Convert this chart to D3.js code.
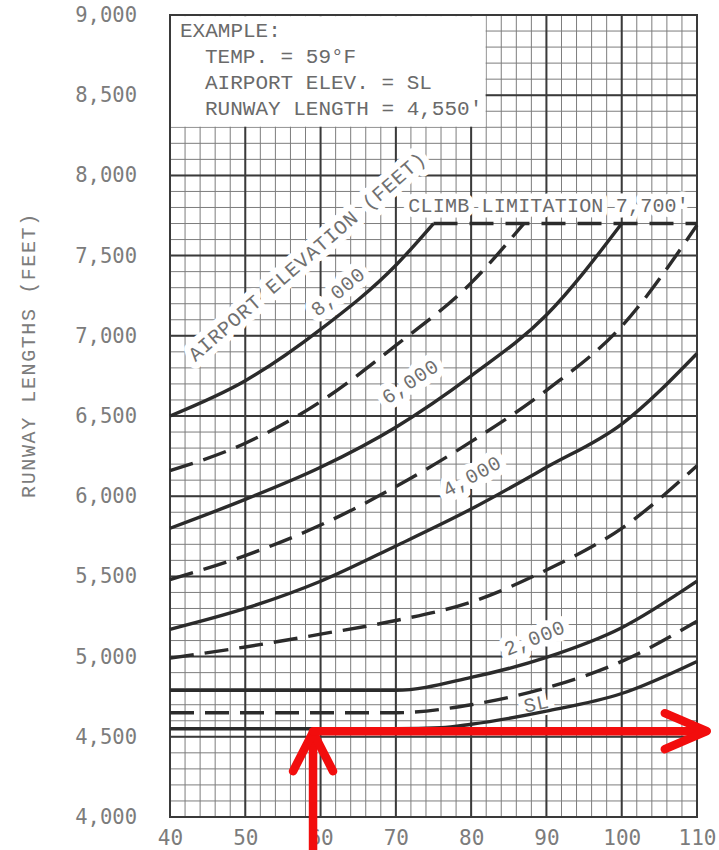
<!DOCTYPE html>
<html>
<head>
<meta charset="utf-8">
<script src="https://cdn.jsdelivr.net/npm/d3@7"></script>
<style>
  html, body { margin: 0; padding: 0; background: #fff; }
  svg { display: block; }
</style>
</head>
<body>
<div id="chart"></div>
<script>
// ---------- DATA ----------
const xTickValues = [40, 50, 60, 70, 80, 90, 100, 110];
const yTickValues = [4000, 4500, 5000, 5500, 6000, 6500, 7000, 7500, 8000, 8500, 9000];

// Airport elevation curves (temperature °F -> runway length ft)
const tSL   = [40, 50, 60, 70, 76, 80, 90, 100, 110];
const vSL   = [4550, 4550, 4550, 4550, 4556, 4578, 4660, 4770, 4970];
const t1000 = [40, 50, 60, 70, 80, 90, 100, 110];
const v1000 = [4650, 4650, 4650, 4650, 4700, 4805, 4970, 5220];
const t2000 = [40, 50, 60, 70, 80, 90, 100, 110];
const v2000 = [4790, 4790, 4790, 4790, 4870, 4995, 5180, 5470];
const t3000 = [40, 50, 60, 70, 80, 90, 100, 110];
const v3000 = [4990, 5060, 5140, 5225, 5340, 5540, 5800, 6190];
const t4000 = [40, 50, 60, 70, 80, 90, 100, 110];
const v4000 = [5170, 5300, 5470, 5690, 5920, 6180, 6450, 6890];
const t5000 = [40, 50, 60, 70, 80, 90, 100, 110];
const v5000 = [5480, 5630, 5820, 6060, 6340, 6660, 7060, 7690];
const t6000 = [40, 50, 60, 70, 80, 90, 100];
const v6000 = [5800, 5980, 6180, 6430, 6750, 7130, 7700];
const t7000 = [40, 50, 60, 70, 80, 87];
const v7000 = [6160, 6330, 6590, 6940, 7330, 7700];
const t8000 = [40, 50, 60, 70, 75];
const v8000 = [6500, 6720, 7040, 7440, 7700];
const tClimb = [75, 110];
const vClimb = [7700, 7700];

// Example (red arrows)
const exampleTemp = 59;
const exampleLength = 4535;
const arrowStartLength = 3780;
const arrowEndTemp = 111.3;

const exampleLines = ["EXAMPLE:", "TEMP. = 59\u00B0F", "AIRPORT ELEV. = SL", "RUNWAY LENGTH = 4,550'"];
const curveLabels = [
  { text: "AIRPORT ELEVATION (FEET)", t: 58.3, v: 7490, angle: -41 },
  { text: "8,000", t: 62.4, v: 7270, angle: -40 },
  { text: "6,000", t: 72.0, v: 6710, angle: -34 },
  { text: "4,000", t: 80.2, v: 6120, angle: -29 },
  { text: "2,000", t: 88.5, v: 5110, angle: -22 },
  { text: "SL", t: 88.7, v: 4700, angle: -12 }
];
const climbLabel = { text: "CLIMB LIMITATION 7,700'", t: 90.3, v: 7805 };
const yTitle = "RUNWAY LENGTHS (FEET)";

// ---------- CHART ----------
const W = 719, H = 850;
const svg = d3.select("#chart").append("svg").attr("width", W).attr("height", H);

const x = d3.scaleLinear().domain([40, 110]).range([170, 697]);
const y = d3.scaleLinear().domain([4000, 9000]).range([817, 15]);

const grid = svg.append("g");
// minor grid
grid.selectAll(".vmin").data(d3.range(40, 110.01, 2)).join("line")
  .attr("x1", d => x(d)).attr("x2", d => x(d)).attr("y1", y(9000)).attr("y2", y(4000))
  .attr("stroke", "#7d7d7d").attr("stroke-width", 1);
grid.selectAll(".hmin").data(d3.range(4000, 9000.01, 100)).join("line")
  .attr("x1", x(40)).attr("x2", x(110)).attr("y1", d => y(d)).attr("y2", d => y(d))
  .attr("stroke", "#7d7d7d").attr("stroke-width", 1);
// major grid
grid.selectAll(".vmaj").data(d3.range(40, 110.01, 10)).join("line")
  .attr("x1", d => x(d)).attr("x2", d => x(d)).attr("y1", y(9000)).attr("y2", y(4000))
  .attr("stroke", "#3a3a3a").attr("stroke-width", 2);
grid.selectAll(".hmaj").data(d3.range(4000, 9000.01, 500)).join("line")
  .attr("x1", x(40)).attr("x2", x(110)).attr("y1", d => y(d)).attr("y2", d => y(d))
  .attr("stroke", "#3a3a3a").attr("stroke-width", 2);

// Example box (blank area, top-left)
svg.append("rect")
  .attr("x", x(40) + 1).attr("y", y(9000) + 1.2)
  .attr("width", x(82) - x(40) - 1.6).attr("height", y(8300) - y(9000) - 1.8)
  .attr("fill", "#fff");
svg.append("g").selectAll("text").data(exampleLines).join("text")
  .attr("x", (d, i) => i === 0 ? x(40) + 10 : x(40) + 35)
  .attr("y", (d, i) => 37 + i * 26)
  .attr("font-family", "Liberation Mono, monospace")
  .attr("font-size", 21)
  .attr("fill", "#6a6a6a")
  .text(d => d);

// frame
svg.append("rect").attr("x", x(40)).attr("y", y(9000))
  .attr("width", x(110) - x(40)).attr("height", y(4000) - y(9000))
  .attr("fill", "none").attr("stroke", "#3a3a3a").attr("stroke-width", 2);

// curve label halos (white backgrounds), drawn before curves
const labelG = svg.append("g");
function placeLabel(sel) {
  sel.attr("transform", d => `translate(${x(d.t)},${y(d.v)}) rotate(${d.angle})`)
    .attr("text-anchor", "middle").attr("dominant-baseline", "central")
    .attr("font-family", "Liberation Mono, monospace")
    .attr("font-size", 20).attr("letter-spacing", 0.8)
    .text(d => d.text);
}
labelG.selectAll("text.halo").data(curveLabels).join("text").attr("class", "halo")
  .call(placeLabel).attr("fill", "#fff").attr("stroke", "#fff").attr("stroke-width", 13)
  .attr("stroke-linejoin", "round");
labelG.append("text")
  .attr("x", x(climbLabel.t)).attr("y", y(climbLabel.v))
  .attr("text-anchor", "middle").attr("dominant-baseline", "central")
  .attr("font-family", "Liberation Mono, monospace").attr("font-size", 20).attr("letter-spacing", 0.2)
  .attr("fill", "#fff").attr("stroke", "#fff").attr("stroke-width", 11).attr("stroke-linejoin", "round")
  .text(climbLabel.text);

// curves
const line = d3.line().x(d => x(d[0])).y(d => y(d[1])).curve(d3.curveMonotoneX);
const zip = (t, v) => t.map((d, i) => [d, v[i]]);
const series = [
  { pts: zip(tSL, vSL), dash: null },
  { pts: zip(t1000, v1000), dash: "24,11" },
  { pts: zip(t2000, v2000), dash: null },
  { pts: zip(t3000, v3000), dash: "24,11" },
  { pts: zip(t4000, v4000), dash: null },
  { pts: zip(t5000, v5000), dash: "24,11" },
  { pts: zip(t6000, v6000), dash: null },
  { pts: zip(t7000, v7000), dash: "24,11" },
  { pts: zip(t8000, v8000), dash: null },
  { pts: zip(tClimb, vClimb), dash: "24,12" }
];
svg.append("g").selectAll("path").data(series).join("path")
  .attr("d", d => line(d.pts))
  .attr("fill", "none").attr("stroke", "#2b2b2b").attr("stroke-width", 3.4)
  .attr("stroke-dasharray", d => d.dash);

// label texts
labelG.selectAll("text.lbl").data(curveLabels).join("text").attr("class", "lbl")
  .call(placeLabel).attr("fill", "#707070");
labelG.append("text")
  .attr("x", x(climbLabel.t)).attr("y", y(climbLabel.v))
  .attr("text-anchor", "middle").attr("dominant-baseline", "central")
  .attr("font-family", "Liberation Mono, monospace").attr("font-size", 20).attr("letter-spacing", 0.2)
  .attr("fill", "#6a6a6a")
  .text(climbLabel.text);

// axes
const yAxis = svg.append("g").attr("transform", `translate(${x(40)},0)`)
  .call(d3.axisLeft(y).tickValues(yTickValues).tickSize(0).tickPadding(33).tickFormat(d3.format(",")));
yAxis.select(".domain").remove();
yAxis.selectAll("text").attr("font-family", "DejaVu Sans Mono, monospace").attr("font-size", 20.5)
  .attr("fill", "#7c7c7c");

const xAxis = svg.append("g").attr("transform", `translate(0,${y(4000)})`)
  .call(d3.axisBottom(x).tickValues(xTickValues).tickSize(0).tickPadding(13));
xAxis.select(".domain").remove();
xAxis.selectAll("text").attr("font-family", "DejaVu Sans Mono, monospace").attr("font-size", 21)
  .attr("fill", "#7c7c7c");

svg.append("text")
  .attr("transform", `translate(29,${y(6880)}) rotate(-90)`)
  .attr("text-anchor", "middle").attr("dominant-baseline", "central")
  .attr("font-family", "Liberation Mono, monospace").attr("font-size", 20).attr("letter-spacing", 1.6)
  .attr("fill", "#7c7c7c")
  .text(yTitle);

// red example arrows
const red = svg.append("g").attr("fill", "none").attr("stroke", "#f20d0d")
  .attr("stroke-width", 8.5).attr("stroke-linecap", "round").attr("stroke-linejoin", "round");
red.append("line")
  .attr("x1", x(exampleTemp)).attr("x2", x(exampleTemp))
  .attr("y1", y(arrowStartLength)).attr("y2", y(exampleLength) + 2)
  .attr("stroke-linecap", "butt");
red.append("polyline")
  .attr("points", [[x(exampleTemp) - 20, y(exampleLength) + 40], [x(exampleTemp), y(exampleLength) + 1], [x(exampleTemp) + 20, y(exampleLength) + 40]].join(" "));
red.append("line")
  .attr("x1", x(exampleTemp)).attr("x2", x(arrowEndTemp) - 2)
  .attr("y1", y(exampleLength)).attr("y2", y(exampleLength));
red.append("polyline")
  .attr("points", [[x(arrowEndTemp) - 42, y(exampleLength) - 18], [x(arrowEndTemp), y(exampleLength)], [x(arrowEndTemp) - 42, y(exampleLength) + 18]].join(" "));
</script>
</body>
</html>
